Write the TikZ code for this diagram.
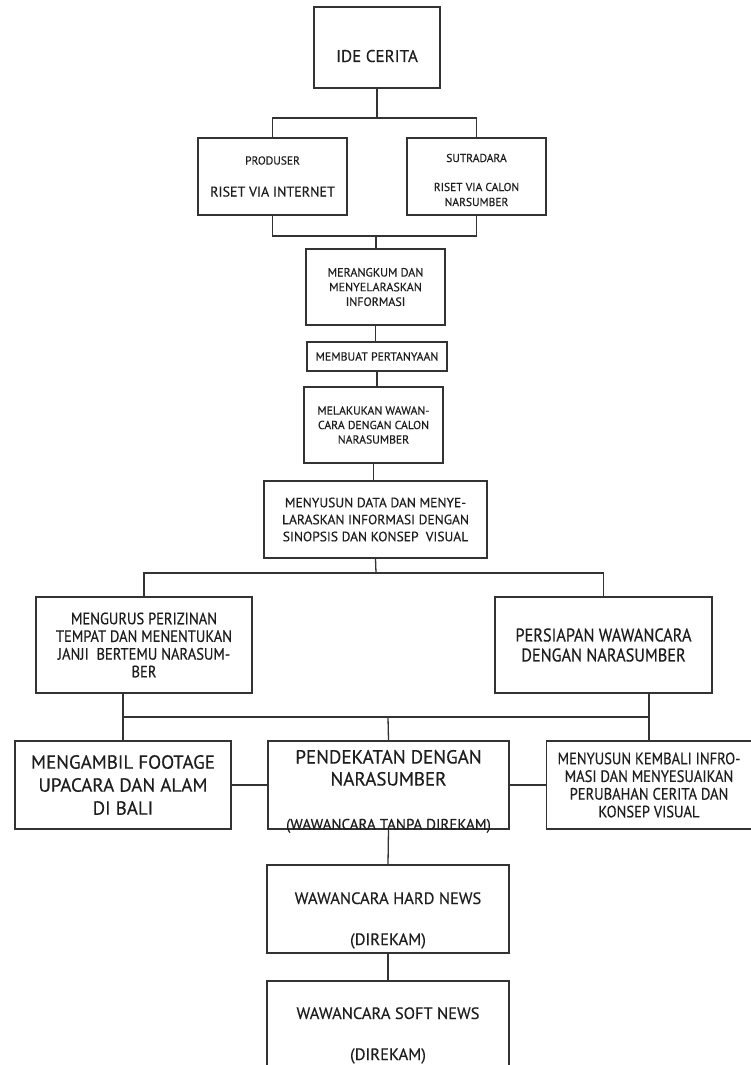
\documentclass[tikz,border=0pt]{standalone}
\usepackage{fontspec}
\setmainfont{PT Sans}[UprightFeatures={FakeBold=0.35}]
\newfontfamily\narrowfont{PT Sans}[FakeStretch=0.88, UprightFeatures={FakeBold=0.35}]
\usepackage{xcolor}
\definecolor{linegray}{HTML}{333333}
\definecolor{textgray}{HTML}{1E1E1E}

\begin{document}
\begin{tikzpicture}[x=1pt, y=-1pt,
    box/.style={draw=linegray, line width=1.3pt, inner sep=0pt, align=center, text=textgray},
    conn/.style={draw=linegray, line width=1.3pt}]
    \useasboundingbox (0,0) rectangle (751,1065);

    % Top of the flow
    \node[box, minimum width=126pt, minimum height=81pt, font=\fontsize{17}{20}\selectfont] (ide) at (377,47.5)
        {\raisebox{-14.5pt}[0pt][0pt]{IDE CERITA}};
    \node[box, minimum width=149pt, minimum height=77pt] (prod) at (272.5,176.5)
        {\fontsize{11.5}{13}\selectfont PRODUSER\\[20pt]\fontsize{14}{16}\selectfont RISET VIA INTERNET};
    \node[box, minimum width=139pt, minimum height=77pt] (sutr) at (476.5,176.5)
        {\raisebox{14.5pt}[0pt][0pt]{\fontsize{11.5}{15}\selectfont\begin{tabular}[t]{@{}c@{}}SUTRADARA\\[14pt]RISET VIA CALON\\NARSUMBER\end{tabular}}};

    % Middle column
    \node[box, minimum width=139pt, minimum height=76pt, font=\fontsize{12}{14.7}\selectfont] (rangkum) at (375.5,287)
        {MERANGKUM DAN\\MENYELARASKAN\\INFORMASI};
    \node[box, minimum width=140pt, minimum height=29pt, font=\fontsize{11.8}{14}\selectfont] (tanya) at (377,356.5)
        {MEMBUAT PERTANYAAN};
    \node[box, minimum width=139pt, minimum height=76pt, font=\fontsize{11.7}{14.5}\selectfont] (wawan) at (373.5,425)
        {MELAKUKAN WAWAN-\\CARA DENGAN CALON\\NARASUMBER};
    \node[box, minimum width=223pt, minimum height=77pt, font=\fontsize{13.5}{17}\selectfont] (susun) at (375.5,519.5)
        {MENYUSUN DATA DAN MENYE-\\LARASKAN INFORMASI DENGAN\\SINOPSIS DAN KONSEP\ \ VISUAL};

    % Second split
    \node[box, minimum width=216pt, minimum height=96pt, font=\narrowfont\fontsize{16.5}{17.7}\selectfont] (izin) at (144,645)
        {MENGURUS PERIZINAN\\TEMPAT DAN MENENTUKAN\\JANJI\ \ BERTEMU NARASUM-\\BER};
    \node[box, minimum width=217pt, minimum height=96pt, font=\narrowfont\fontsize{18.5}{20}\selectfont] (siap) at (603.5,645)
        {PERSIAPAN WAWANCARA\\DENGAN NARASUMBER};

    % Third row
    \node[box, minimum width=216pt, minimum height=88pt, font=\fontsize{19}{23}\selectfont] (footage) at (123,785)
        {MENGAMBIL FOOTAGE\\UPACARA DAN ALAM\\DI BALI};
    \node[box, minimum width=241pt, minimum height=88pt, font=\fontsize{19}{22}\selectfont] (dekat) at (388.5,785)
        {\raisebox{21.5pt}[0pt][0pt]{\begin{tabular}[t]{@{}c@{}}PENDEKATAN DENGAN\\NARASUMBER\\[22pt]\fontsize{15}{17}\selectfont (WAWANCARA TANPA DIREKAM)\end{tabular}}};
    \node[box, minimum width=205pt, minimum height=88pt, font=\narrowfont\fontsize{16.5}{17.7}\selectfont] (kembali) at (649,785)
        {MENYUSUN KEMBALI INFRO-\\MASI DAN MENYESUAIKAN\\PERUBAHAN CERITA DAN\\KONSEP VISUAL};

    % Bottom
    \node[box, minimum width=242pt, minimum height=88pt, font=\fontsize{16.5}{20}\selectfont] (hard) at (388,909)
        {\raisebox{5pt}[0pt][0pt]{\begin{tabular}[t]{@{}c@{}}WAWANCARA HARD NEWS\\[21pt](DIREKAM)\end{tabular}}};
    \node[box, minimum width=242pt, minimum height=88pt, font=\fontsize{16.5}{20}\selectfont] (soft) at (388,1025)
        {\raisebox{6pt}[0pt][0pt]{\begin{tabular}[t]{@{}c@{}}WAWANCARA SOFT NEWS\\[21pt](DIREKAM)\end{tabular}}};

    % Connectors
    \coordinate (split1) at (377,118);
    \coordinate (join1) at (376,236);
    \coordinate (split2) at (376,573);
    \coordinate (bus) at (388,717);
    \draw[conn] (ide) -- (split1);
    \draw[conn] (prod.north) |- (split1) -| (sutr.north);
    \draw[conn] (prod.south) |- (join1) -| (sutr.south);
    \draw[conn] (join1) -- (join1 |- rangkum.north);
    \draw[conn] (rangkum.south) -- (rangkum.south |- tanya.north);
    \draw[conn] (tanya.south) -- (tanya.south |- wawan.north);
    \draw[conn] (wawan.south) -- (wawan.south |- susun.north);
    \draw[conn] (susun.south) -- (split2);
    \draw[conn] (izin.north) |- (split2) -| (siap.north);
    \draw[conn] (izin.south -| footage.north) -- (footage.north);
    \draw[conn] (siap.south -| kembali.north) -- (kembali.north);
    \draw[conn] (footage.north |- bus) -- (kembali.north |- bus);
    \draw[conn] (bus) -- (dekat.north);
    \draw[conn] (footage) -- (dekat);
    \draw[conn] (dekat) -- (kembali);
    \draw[conn] (dekat.south) -- (hard.north);
    \draw[conn] (hard.south) -- (soft.north);
\end{tikzpicture}
\end{document}
